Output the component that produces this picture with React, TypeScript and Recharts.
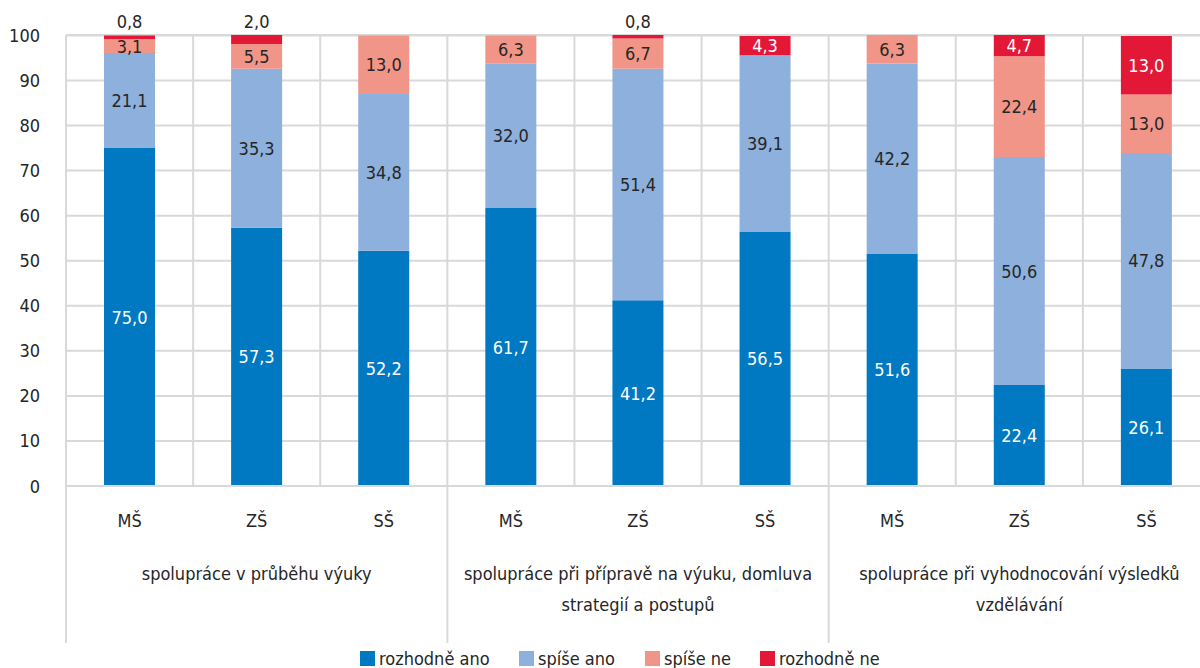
import { BarChart, Bar, XAxis, YAxis, CartesianGrid, LabelList } from 'recharts';

const schools = ['MŠ', 'ZŠ', 'SŠ', 'MŠ', 'ZŠ', 'SŠ', 'MŠ', 'ZŠ', 'SŠ'];
const groupLabels = [
  ['spolupráce v průběhu výuky'],
  ['spolupráce při přípravě na výuku, domluva', 'strategií a postupů'],
  ['spolupráce při vyhodnocování výsledků', 'vzdělávání'],
];
const rozhodneAno = [75.0, 57.3, 52.2, 61.7, 41.2, 56.5, 51.6, 22.4, 26.1];
const spiseAno = [21.1, 35.3, 34.8, 32.0, 51.4, 39.1, 42.2, 50.6, 47.8];
const spiseNe = [3.1, 5.5, 13.0, 6.3, 6.7, 0, 6.3, 22.4, 13.0];
const rozhodneNe = [0.8, 2.0, 0, 0, 0.8, 4.3, 0, 4.7, 13.0];
const yTicks = [0, 10, 20, 30, 40, 50, 60, 70, 80, 90, 100];

const series = [
  { key: 'ra', name: 'rozhodně ano', color: '#0079c2', text: '#ffffff' },
  { key: 'sa', name: 'spíše ano', color: '#8db0dc', text: '#262626' },
  { key: 'sn', name: 'spíše ne', color: '#f19588', text: '#262626' },
  { key: 'rn', name: 'rozhodně ne', color: '#e31837', text: '#ffffff' },
];

const data = schools.map((s, i) => ({
  school: s,
  ra: rozhodneAno[i],
  sa: spiseAno[i],
  sn: spiseNe[i],
  rn: rozhodneNe[i],
}));

const W = 1220;
const H = 668;
const LEFT = 66;
const RIGHT = 10;
const TOP = 35;
const PLOT_BOTTOM = 486;
const BAND = (W - LEFT - RIGHT) / 9;
const FONT = '"Liberation Sans Narrow", "DejaVu Sans Condensed", "Open Sans", sans-serif';
const FS = 18;
const GRID = '#d9d9d9';
const DARK = '#262626';

const fmt = (v: number) => v.toFixed(1).replace('.', ',');

const makeLabel = (textColor: string) => (props: any) => {
  const { x, y, width, height, value } = props;
  if (!value) return null;
  const small = value < 2.5;
  const cx = Number(x) + Number(width) / 2;
  const cy = small ? Number(y) - 14 : Number(y) + Number(height) / 2;
  return (
    <text
      x={cx}
      y={cy}
      textAnchor="middle"
      dominantBaseline="central"
      fill={small ? DARK : textColor}
      fontSize={FS}
      fontFamily={FONT}
    >
      {fmt(value)}
    </text>
  );
};

const XTick = (props: any) => {
  const { x, payload, index } = props;
  const g = Math.floor(index / 3);
  return (
    <g>
      <text x={x} y={PLOT_BOTTOM + 34} textAnchor="middle" dominantBaseline="central" fill={DARK} fontSize={FS} fontFamily={FONT}>
        {payload.value}
      </text>
      {index % 3 === 1 &&
        groupLabels[g].map((line, li) => (
          <text key={li} x={x} y={573 + li * 31} textAnchor="middle" dominantBaseline="central" fill={DARK} fontSize={FS} fontFamily={FONT}>
            {line}
          </text>
        ))}
      {index % 3 === 0 && (
        <line x1={x - BAND / 2} x2={x - BAND / 2} y1={PLOT_BOTTOM} y2={643} stroke={GRID} strokeWidth={2} />
      )}
      {index === 8 && (
        <line x1={x + BAND / 2} x2={x + BAND / 2} y1={PLOT_BOTTOM} y2={643} stroke={GRID} strokeWidth={2} />
      )}
    </g>
  );
};

const YTick = (props: any) => {
  const { y, payload } = props;
  return (
    <text x={40} y={y} textAnchor="end" dominantBaseline="central" fill={DARK} fontSize={FS} fontFamily={FONT}>
      {payload.value}
    </text>
  );
};

const legendX = [360, 519, 645, 760];

export default function App() {
  return (
    <div style={{ width: W, height: H, fontFamily: FONT, position: 'relative' }}>
      <style>{`body{margin:0;overflow:hidden}`}</style>
      <BarChart
        width={W}
        height={H}
        data={data}
        margin={{ top: TOP, right: RIGHT, left: 0, bottom: H - PLOT_BOTTOM - 160 }}
        barSize={51}
      >
        <CartesianGrid
          stroke={GRID}
          strokeWidth={2}
          verticalCoordinatesGenerator={({ offset }: any) =>
            Array.from({ length: 10 }, (_, i) => offset.left + (i * offset.width) / 9)
          }
        />
        <XAxis
          dataKey="school"
          interval={0}
          tickLine={false}
          axisLine={{ stroke: GRID, strokeWidth: 2 }}
          height={160}
          tick={<XTick />}
        />
        <YAxis
          width={LEFT}
          domain={[0, 100]}
          ticks={yTicks}
          tickLine={false}
          axisLine={false}
          tick={<YTick />}
        />
        {series.map((s) => (
          <Bar key={s.key} dataKey={s.key} name={s.name} stackId="a" fill={s.color} isAnimationActive={false}>
            <LabelList dataKey={s.key} content={makeLabel(s.text)} />
          </Bar>
        ))}
      </BarChart>
      {series.map((s, i) => (
        <div
          key={s.key}
          style={{
            position: 'absolute',
            left: legendX[i],
            top: 647,
            height: 22,
            display: 'flex',
            alignItems: 'center',
            fontSize: FS,
            color: DARK,
            whiteSpace: 'nowrap',
          }}
        >
          <span style={{ display: 'inline-block', width: 15, height: 15, background: s.color, marginRight: 4 }} />
          {s.name}
        </div>
      ))}
    </div>
  );
}
